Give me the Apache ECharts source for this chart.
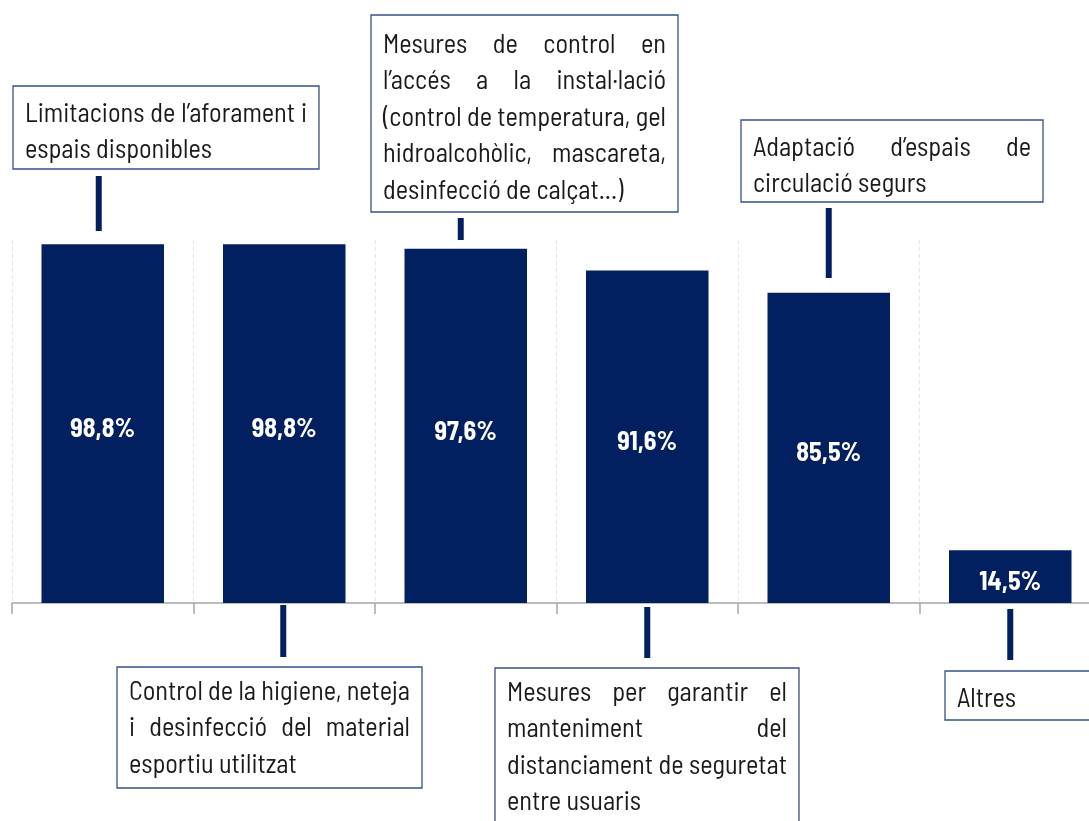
<!DOCTYPE html>
<html><head><meta charset="utf-8">
<script src="https://cdn.jsdelivr.net/npm/echarts@6/dist/echarts.min.js"></script>
<style>html,body{margin:0;padding:0;background:#fff}#c{width:1089px;height:821px}</style>
</head><body><div id="c"></div>
<script>
// ---- data ----
const categories = [
  "Limitacions de l’aforament i espais disponibles",
  "Control de la higiene, neteja i desinfecció del material esportiu utilitzat",
  "Mesures de control en l’accés a la instal·lació (control de temperatura, gel hidroalcohòlic, mascareta, desinfecció de calçat...)",
  "Mesures per garantir el manteniment del distanciament de seguretat entre usuaris",
  "Adaptació d’espais de circulació segurs",
  "Altres"
];
const values = [98.8, 98.8, 97.6, 91.6, 85.5, 14.5];
const annotationLines = [
  ["Limitacions de l’aforament i", "espais disponibles"],
  ["Control de la higiene, neteja", "i desinfecció del material", "esportiu utilitzat"],
  ["Mesures de control en", "l’accés a la instal·lació", "(control de temperatura, gel", "hidroalcohòlic, mascareta,", "desinfecció de calçat...)"],
  ["Mesures per garantir el", "manteniment del", "distanciament de seguretat", "entre usuaris"],
  ["Adaptació d’espais de", "circulació segurs"],
  ["Altres"]
];

// ---- layout (positions / sizes only) ----
const boxLayout = [
  {x: 13,  y: 86,  w: 306, h: 83,  c1: 176, c2: 231, dx: -4, tb: 35},
  {x: 117, y: 667, w: 305, h: 121, c1: 605, c2: 657, dx: -1, tb: 32},
  {x: 371, y: 15,  w: 307, h: 197, c1: 218, c2: 240, dx: -5, tb: 37},
  {x: 495, y: 668, w: 304, h: 170, c1: 607, c2: 658, dx: 0,  tb: 32},
  {x: 741, y: 120, w: 302, h: 82,  c1: 208, c2: 278, dx: 0,  tb: 35},
  {x: 945, y: 671, w: 170, h: 49,  c1: 609, c2: 660, dx: 0,  tb: 35}
];
const LINE_H = 36.5, PAD = 12;
const NAVY = '#022060';

function pickFont(list) {
  const c = document.createElement('canvas').getContext('2d');
  const s = 'abcdefghijklmnopqrstuvwxyzABCDEFGH0123456789';
  for (const f of list) {
    c.font = '40px monospace'; const a = c.measureText(s).width;
    c.font = '40px "' + f + '", monospace'; const b = c.measureText(s).width;
    c.font = '40px serif'; const a2 = c.measureText(s).width;
    c.font = '40px "' + f + '", serif'; const b2 = c.measureText(s).width;
    if (a !== b || a2 !== b2) return f;
  }
  return 'sans-serif';
}
const FONT = pickFont(["Barlow Semi Condensed", "Liberation Sans Narrow", "DejaVu Sans Condensed", "Roboto Condensed", "Roboto", "Liberation Sans"]);

const chart = echarts.init(document.getElementById('c'), null, {renderer: 'canvas'});
chart.setOption({
  animation: false,
  grid: {left: 12, right: -12, top: 240, bottom: 218, outerBoundsMode: 'none', containLabel: false},
  xAxis: {
    type: 'category', data: categories,
    axisLine: {lineStyle: {color: '#a6a6a6', width: 1.5}},
    axisTick: {show: true, interval: 0, length: 11, lineStyle: {color: '#a6a6a6', width: 1.5}},
    axisLabel: {show: false, interval: 0},
    splitLine: {show: true, interval: 0, lineStyle: {color: '#d3ecf2', type: [4, 3], width: 1}}
  },
  yAxis: {type: 'value', min: 0, max: 100, show: false},
  series: [{
    type: 'bar', data: values, barWidth: '67.5%',
    itemStyle: {color: NAVY},
    label: {
      show: true, position: 'inside', offset: [0, 5], color: '#ffffff',
      fontSize: 26, fontWeight: 'bold', fontFamily: FONT,
      formatter: p => p.value.toFixed(1).replace('.', ',') + '%'
    }
  }]
});

// ---- annotations ----
const mctx = document.createElement('canvas').getContext('2d');
function tw(t, fs) { mctx.font = fs + 'px "' + FONT + '"'; return mctx.measureText(t).width; }
let fs = 28;
annotationLines.forEach((lines, i) => {
  const inner = boxLayout[i].w - 2 * PAD;
  lines.forEach(l => { const w = tw(l, 28); if (w > inner) fs = Math.min(fs, 28 * inner / w); });
});
fs = Math.floor(fs * 10) / 10;

const els = [];
boxLayout.forEach((b, i) => {
  const cx = chart.convertToPixel({xAxisIndex: 0}, i) + b.dx;
  els.push({type: 'rect', z: 10, shape: {x: b.x, y: b.y, width: b.w, height: b.h},
    style: {fill: '#ffffff', stroke: '#34508a', lineWidth: 1.3}});
  els.push({type: 'rect', z: 10, shape: {x: cx - 3, y: b.c1, width: 6, height: b.c2 - b.c1},
    style: {fill: NAVY}});
  const inner = b.w - 2 * PAD;
  const lines = annotationLines[i];
  lines.forEach((line, li) => {
    const y = b.y + b.tb + li * LINE_H - 0.3 * fs;
    const words = line.split(' ');
    const last = li === lines.length - 1;
    if (last || words.length < 2) {
      els.push({type: 'text', z: 11, x: b.x + PAD, y: y,
        style: {text: line, fontSize: fs, fontFamily: FONT, fill: '#1a1a1a', align: 'left', verticalAlign: 'middle'}});
    } else {
      const ws = words.map(w => tw(w, fs));
      const total = ws.reduce((a, c) => a + c, 0);
      const gap = (inner - total) / (words.length - 1);
      let x = b.x + PAD;
      words.forEach((w, wi) => {
        els.push({type: 'text', z: 11, x: x, y: y,
          style: {text: w, fontSize: fs, fontFamily: FONT, fill: '#1a1a1a', align: 'left', verticalAlign: 'middle'}});
        x += ws[wi] + gap;
      });
    }
  });
});
chart.setOption({graphic: {elements: els}});
</script>
</body></html>
